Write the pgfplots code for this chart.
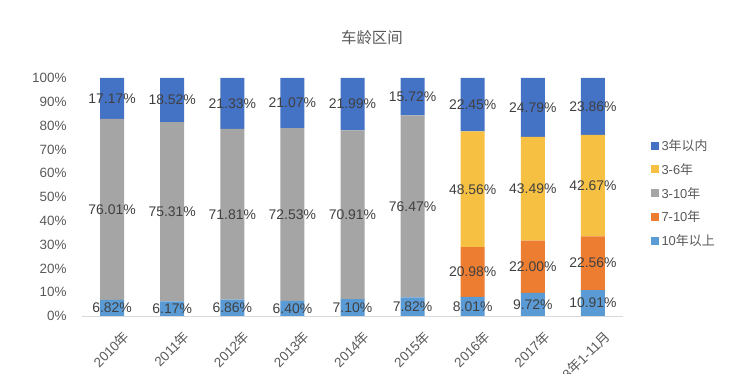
\documentclass[border=0pt]{standalone}
\usepackage{pgfplots}
\pgfplotsset{compat=1.18}
\usepackage{pgfplotstable}
\usepackage{fontspec}
\setmainfont{Liberation Sans}
\newfontfamily\cjk{Noto Sans CJK SC}
\definecolor{cA}{HTML}{4472C4}
\definecolor{cB}{HTML}{F6C143}
\definecolor{cC}{HTML}{A5A5A5}
\definecolor{cD}{HTML}{ED7D31}
\definecolor{cE}{HTML}{5B9BD5}
\definecolor{txt}{HTML}{595959}
\definecolor{lab}{HTML}{404040}

% bottom to top
\pgfplotstableread{
x v
0 6.82
1 6.17
2 6.86
3 6.40
4 7.10
5 7.82
6 8.01
7 9.72
8 10.91
}\tE
\pgfplotstableread{
x v
0 0
1 0
2 0
3 0
4 0
5 0
6 20.98
7 22.00
8 22.56
}\tD
\pgfplotstableread{
x v
0 76.01
1 75.31
2 71.81
3 72.53
4 70.91
5 76.47
6 0
7 0
8 0
}\tC
\pgfplotstableread{
x v
0 0
1 0
2 0
3 0
4 0
5 0
6 48.56
7 43.49
8 42.67
}\tB
\pgfplotstableread{
x v
0 17.17
1 18.52
2 21.33
3 21.07
4 21.99
5 15.72
6 22.45
7 24.79
8 23.86
}\tA
% label positions (segment centres) and values
\pgfplotstableread{
x yc v
0 3.41 6.82
1 3.085 6.17
2 3.43 6.86
3 3.20 6.40
4 3.55 7.10
5 3.91 7.82
6 4.005 8.01
7 4.86 9.72
8 5.455 10.91
6 18.50 20.98
7 20.72 22.00
8 22.19 22.56
0 44.825 76.01
1 43.825 75.31
2 42.765 71.81
3 42.665 72.53
4 42.555 70.91
5 46.055 76.47
6 53.27 48.56
7 53.465 43.49
8 54.805 42.67
0 91.415 17.17
1 90.74 18.52
2 89.335 21.33
3 89.465 21.07
4 89.005 21.99
5 92.14 15.72
6 88.775 22.45
7 87.605 24.79
8 88.07 23.86
}\tLab

\begin{document}
\begin{tikzpicture}
\begin{axis}[
  at={(82bp,58bp)}, anchor=south west,
  scale only axis, width=541bp, height=238bp,
  ybar stacked, bar width=24bp,
  xmin=-0.5, xmax=8.5, ymin=0, ymax=100,
  /pgf/number format/assume math mode=true,
  xtick={0,...,8},
  xticklabels={{2010{\cjk 年}},{2011{\cjk 年}},{2012{\cjk 年}},{2013{\cjk 年}},{2014{\cjk 年}},{2015{\cjk 年}},{2016{\cjk 年}},{2017{\cjk 年}},{2018{\cjk 年}1-11{\cjk 月}}},
  ytick={0,10,...,100},
  yticklabel={\pgfmathprintnumber{\tick}\%},
  separate axis lines,
  axis x line*=bottom, axis y line*=left,
  y axis line style={draw=none},
  x axis line style={draw=black!15, line width=0.8bp},
  major tick length=0pt,
  tick style={draw=none},
  yticklabel style={font=\fontsize{13.5}{16}\selectfont, text=txt, xshift=-12bp},
  xticklabel style={rotate=45, anchor=north east, font=\fontsize{13.5}{16}\selectfont, text=txt, yshift=-13bp, xshift=1bp},
  title={\cjk 车龄区间},
  title style={at={(0.536,1)}, anchor=center, yshift=34bp, font=\fontsize{15.5}{18}\selectfont, text=txt},
  legend style={at={(1.045,0.76)}, anchor=north west, draw=none, fill=none,
    font=\fontsize{13}{15}\selectfont, text=txt, row sep=7.5bp,
    /tikz/every odd column/.append style={column sep=1bp}},
  legend cell align=left,
  reverse legend,
  legend image code/.code={\fill[#1] (0bp,-4bp) rectangle (8bp,4bp);},
]
\addplot[fill=cE, draw=none] table[x=x,y=v]{\tE};
\addlegendentry{10{\cjk 年以上}}
\addplot[fill=cD, draw=none] table[x=x,y=v]{\tD};
\addlegendentry{7-10{\cjk 年}}
\addplot[fill=cC, draw=none] table[x=x,y=v]{\tC};
\addlegendentry{3-10{\cjk 年}}
\addplot[fill=cB, draw=none] table[x=x,y=v]{\tB};
\addlegendentry{3-6{\cjk 年}}
\addplot[fill=cA, draw=none] table[x=x,y=v]{\tA};
\addlegendentry{3{\cjk 年以内}}
\end{axis}
\begin{axis}[
  at={(82bp,58bp)}, anchor=south west,
  scale only axis, width=541bp, height=238bp,
  xmin=-0.5, xmax=8.5, ymin=0, ymax=100,
  hide axis,
  /pgf/number format/assume math mode=true,
]
\addplot[only marks, mark=none, point meta=explicit,
  nodes near coords={\pgfmathprintnumber[fixed,fixed zerofill,precision=2]{\pgfplotspointmeta}\%},
  every node near coord/.append style={anchor=center, font=\fontsize{14}{16}\selectfont, text=lab}]
  table[x=x,y=yc,meta=v]{\tLab};
\end{axis}
\pgfresetboundingbox
\path[use as bounding box] (0,0) rectangle (744bp,374bp);
\end{tikzpicture}
\end{document}
